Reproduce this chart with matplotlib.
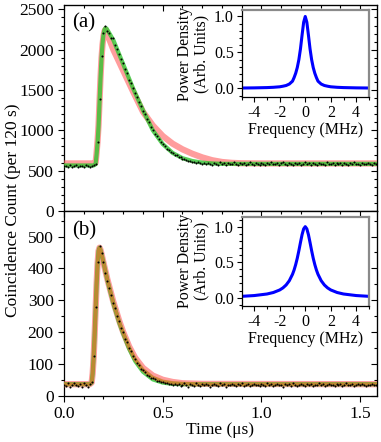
import numpy as np
import matplotlib
matplotlib.use("Agg")
import matplotlib.pyplot as plt
from matplotlib.ticker import MultipleLocator

plt.rcParams["font.family"] = ["Liberation Serif", "DejaVu Serif"]
plt.rcParams["mathtext.fontset"] = "stix"
plt.rcParams["axes.unicode_minus"] = False

# ── Data ────────────────────────────────────────────────────────────────────

# (a) measured coincidence counts, one value every 10 ns from 0.00 us
counts_a = [
    552, 561, 548, 566, 545, 558, 570, 541, 556, 563, 549, 572, 553, 544, 560, 567,
    578, 860, 1390, 1920, 2210, 2290, 2230, 2210, 2150, 2140,
    2060, 2010, 1950, 1880, 1830, 1760, 1710, 1630, 1590, 1530,
    1460, 1420, 1350, 1300, 1240, 1200, 1140, 1100, 1040, 1010,
    960, 930, 890, 850, 830, 800, 770, 760, 730, 720,
    700, 690, 670, 665, 650, 640, 635, 622, 615, 612,
    605, 598, 602, 590, 588,
    592, 578, 601, 583, 570, 596, 588, 575, 604, 581,
    590, 569, 598, 584, 577, 607, 586, 572, 593, 580,
    599, 574, 588, 603, 579, 568, 595, 585, 576, 600,
    583, 571, 597, 589, 606, 578, 584, 593, 567, 590,
    602, 580, 575, 594, 586, 573, 599, 582, 591, 570,
    587, 605, 579, 592, 576, 598, 584, 569, 596, 581,
    589, 574, 603, 585, 578, 594, 571, 600, 583, 590,
    576, 597, 586, 568, 595, 582, 604, 579, 588, 573,
    599, 584, 577, 593, 586, 571, 601, 582,
]

# (b) measured coincidence counts, same time grid
counts_b = [
    36, 31, 40, 28, 35, 42, 33, 30, 38, 27, 41, 34, 29, 37,
    45, 125, 280, 420, 470, 448, 420, 385, 362, 340,
    318, 292, 275, 250, 236, 212, 200, 180, 168, 150,
    142, 125, 115, 104, 98, 86, 80, 74, 66, 64,
    58, 55, 52, 48, 46, 44, 43, 40, 41, 38, 39, 36,
    37, 33, 39, 31, 36, 40, 34, 29, 38, 35,
    32, 41, 36, 30, 37, 34, 39, 33, 28, 36,
    38, 35, 31, 40, 34, 37, 29, 36, 33, 39,
    35, 30, 38, 34, 41, 32, 36, 37, 31, 35,
    39, 33, 36, 30, 38, 35, 32, 40, 34, 37,
    31, 36, 39, 33, 35, 29, 38, 34, 37, 32,
    40, 35, 31, 36, 38, 33, 30, 37, 34, 39,
    32, 36, 35, 41, 33, 38, 30, 35, 37, 34,
    36, 31, 39, 34, 37, 32, 35, 40, 33, 36,
    38, 30, 35, 37, 33, 39, 34, 31, 36, 35,
    37, 33, 36,
]

# fitted curves (a)
fit_a_t = [0.00, 0.15, 0.16, 0.165, 0.17, 0.175, 0.18, 0.185, 0.19, 0.195, 0.20,
           0.205, 0.21, 0.215, 0.22, 0.25, 0.30, 0.35, 0.40, 0.45, 0.50, 0.55,
           0.60, 0.65, 0.70, 0.75, 0.80, 0.85, 0.90, 1.00, 1.58]
fit_a_red = [590, 590, 600, 720, 870, 1070, 1370, 1660, 1900, 2060, 2170,
             2230, 2250, 2230, 2190, 2000, 1740, 1480, 1230, 1060, 930, 835,
             765, 710, 665, 630, 608, 597, 592, 590, 590]
fit_a_green = [565, 565, 580, 700, 850, 1050, 1350, 1650, 1900, 2080, 2190,
               2250, 2270, 2265, 2245, 2120, 1820, 1520, 1250, 1000, 830, 720,
               655, 620, 600, 590, 585, 585, 585, 585, 585]

# fitted curves (b)
fit_b_t = [0.00, 0.13, 0.14, 0.145, 0.15, 0.155, 0.16, 0.165, 0.17, 0.175, 0.18,
           0.185, 0.19, 0.20, 0.22, 0.25, 0.28, 0.30, 0.33, 0.36, 0.40, 0.45,
           0.50, 0.55, 0.60, 0.70, 1.58]
fit_b_red = [37, 37, 42, 70, 120, 190, 270, 350, 415, 455, 465,
             458, 445, 418, 365, 295, 235, 200, 155, 120, 88, 64,
             51, 44, 40, 38, 37]
fit_b_green = [37, 37, 42, 70, 120, 190, 270, 350, 415, 455, 465,
               458, 445, 418, 362, 290, 229, 195, 148, 110, 76, 52,
               42, 38, 37, 37, 37]
fit_b_orange = [37, 37, 42, 70, 120, 190, 270, 350, 415, 455, 465,
                458, 445, 418, 364, 293, 232, 198, 152, 115, 82, 58,
                46, 41, 39, 37, 37]

# inset spectra (normalised power density)
freq = [-5, -4, -3, -2.5, -2, -1.75, -1.5, -1.25, -1, -0.875, -0.75, -0.625, -0.5,
        -0.375, -0.25, -0.125, 0, 0.125, 0.25, 0.375, 0.5, 0.625, 0.75, 0.875,
        1, 1.25, 1.5, 1.75, 2, 2.5, 3, 4, 5]
spec_a = [0.005, 0.007, 0.011, 0.015, 0.022, 0.030, 0.040, 0.060, 0.10, 0.15, 0.21,
          0.29, 0.40, 0.55, 0.74, 0.92, 1.0, 0.92, 0.74, 0.55, 0.40, 0.29,
          0.21, 0.15, 0.10, 0.060, 0.040, 0.030, 0.022, 0.015, 0.011, 0.007, 0.005]
spec_b = [0.019, 0.030, 0.052, 0.073, 0.109, 0.138, 0.179, 0.239, 0.329, 0.390,
          0.466, 0.556, 0.662, 0.777, 0.887, 0.969, 1.0, 0.969, 0.887, 0.777,
          0.662, 0.556, 0.466, 0.390, 0.329, 0.239, 0.179, 0.138, 0.109, 0.073,
          0.052, 0.030, 0.019]

time_step = 0.01
RED = "#ff5c5c"
GREEN = "#2fc42f"
ORANGE = "#cf7f2e"
FS = 12.5
FS_IN = 11.5


def style_main(ax, ymajor, yminor):
    ax.set_xlim(0, 1.585)
    ax.xaxis.set_major_locator(MultipleLocator(0.5))
    ax.xaxis.set_minor_locator(MultipleLocator(0.1))
    ax.yaxis.set_major_locator(MultipleLocator(ymajor))
    ax.yaxis.set_minor_locator(MultipleLocator(yminor))
    ax.tick_params(which="both", direction="out", labelsize=FS, width=0.8)
    ax.tick_params(which="major", length=4)
    ax.tick_params(which="minor", length=2)
    for side in ("right", "top"):
        sec = ax.secondary_yaxis("right") if side == "right" else ax.secondary_xaxis("top")
        axis = sec.yaxis if side == "right" else sec.xaxis
        axis.set_major_locator(MultipleLocator(ymajor if side == "right" else 0.5))
        axis.set_minor_locator(MultipleLocator(yminor if side == "right" else 0.1))
        sec.tick_params(which="both", direction="in", labelright=False, labeltop=False, width=0.8)
        sec.tick_params(which="major", length=4)
        sec.tick_params(which="minor", length=2)
    for s in ax.spines.values():
        s.set_linewidth(0.9)


def style_inset(ax, ylim):
    ax.set_xlim(-5, 5)
    ax.set_ylim(*ylim)
    ax.xaxis.set_major_locator(MultipleLocator(2))
    ax.xaxis.set_minor_locator(MultipleLocator(1))
    ax.yaxis.set_major_locator(MultipleLocator(0.5))
    ax.yaxis.set_minor_locator(MultipleLocator(0.1))
    ax.tick_params(which="both", direction="out", labelsize=FS_IN, width=0.8, pad=2)
    ax.tick_params(which="major", length=3.5)
    ax.tick_params(which="minor", length=2)
    ax.set_xlabel("Frequency (MHz)", fontsize=FS_IN, labelpad=1)
    ax.set_ylabel("Power Density\n(Arb. Units)", fontsize=FS_IN, labelpad=3, linespacing=1.05)
    for side in ("top", "right"):
        ax.spines[side].set_color("#8a8a8a")
        ax.spines[side].set_linewidth(1.6)
    for side in ("left", "bottom"):
        ax.spines[side].set_linewidth(0.9)


fig = plt.figure(figsize=(3.81, 4.42), dpi=100)
W = 313 / 381
ax_a = fig.add_axes([64 / 381, (442 - 211) / 442, W, 206 / 442])
ax_b = fig.add_axes([64 / 381, (442 - 396) / 442, W, 185 / 442])

t_a = np.arange(len(counts_a)) * time_step
t_b = np.arange(len(counts_b)) * time_step

# (a)
ax_a.plot(fit_a_t, fit_a_red, color=RED, lw=4.5, alpha=0.6, zorder=3)
ax_a.plot(fit_a_t, fit_a_green, color=GREEN, lw=3.0, alpha=0.8, zorder=4)
ax_a.plot(t_a, counts_a, ls="none", marker="o", ms=1.5, mec="none", color="black", zorder=6)
ax_a.set_ylim(0, 2555)
style_main(ax_a, 500, 100)
ax_a.tick_params(labelbottom=False)
ax_a.text(0.027, 0.915, "(a)", transform=ax_a.transAxes, fontsize=15, va="center")

# (b)
ax_b.plot(fit_b_t, fit_b_red, color=RED, lw=4.5, alpha=0.6, zorder=3)
ax_b.plot(fit_b_t, fit_b_green, color=GREEN, lw=3.0, alpha=0.8, zorder=4)
ax_b.plot(fit_b_t, fit_b_orange, color=ORANGE, lw=2.6, alpha=0.85, zorder=5)
ax_b.plot(t_b, counts_b, ls="none", marker="o", ms=1.5, mec="none", color="black", zorder=6)
ax_b.set_ylim(0, 580)
style_main(ax_b, 100, 50)
ax_b.set_xlabel("Time (μs)", fontsize=FS, labelpad=0)
ax_b.text(0.027, 0.895, "(b)", transform=ax_b.transAxes, fontsize=15, va="center")

fig.text(0.035, (442 - 210) / 442, "Coincidence Count (per 120 s)", rotation=90,
         fontsize=FS, ha="center", va="center")

# insets
in_a = fig.add_axes([241.5 / 381, (442 - 97) / 442, 127.5 / 381, 87 / 442])
in_a.plot(freq, spec_a, color="#0000ff", lw=2.2)
style_inset(in_a, (-0.12, 1.09))

in_b = fig.add_axes([241.5 / 381, (442 - 306) / 442, 127.5 / 381, 89.3 / 442])
in_b.plot(freq, spec_b, color="#0000ff", lw=2.2)
style_inset(in_b, (-0.117, 1.14))

fig.savefig("out.png", dpi=100)
